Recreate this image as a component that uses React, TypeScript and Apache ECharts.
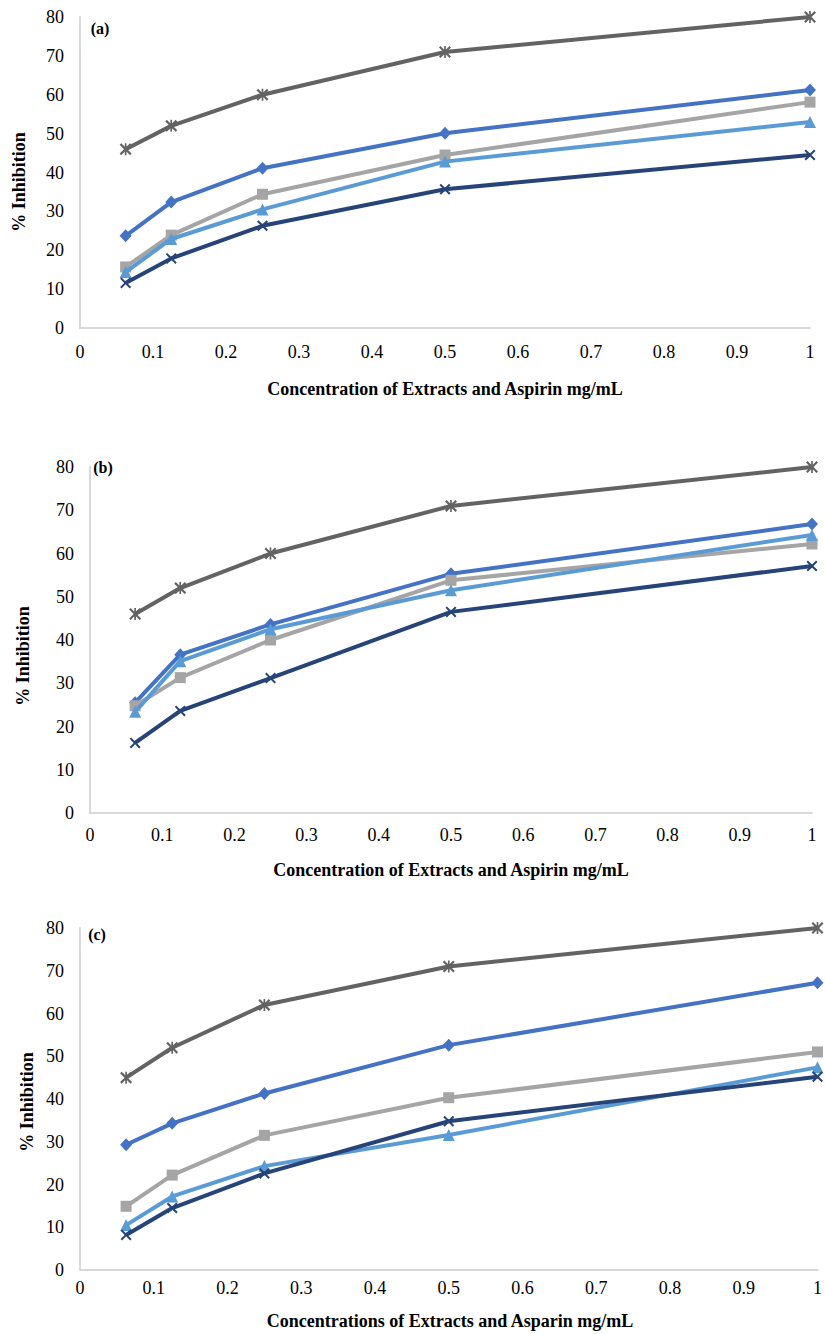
import React, { useEffect, useRef } from "react";
import * as echarts from "echarts";

// Concentrations (mg/mL)
const concentrations = [0.0625, 0.125, 0.25, 0.5, 1];
const panelLabels = ["(a)", "(b)", "(c)"];
const xTitles = [
  "Concentration of Extracts and Aspirin mg/mL",
  "Concentration of Extracts and Aspirin mg/mL",
  "Concentrations of Extracts and Asparin mg/mL",
];
const yTitle = "% Inhibition";

// Panel (a)
const aDiamond = [23.7, 32.4, 41.1, 50.1, 61.2];
const aSquare = [15.7, 23.9, 34.4, 44.5, 58.1];
const aTriangle = [14.4, 22.9, 30.5, 42.8, 53.0];
const aCross = [11.6, 17.9, 26.3, 35.7, 44.5];
const aStar = [46, 52, 60, 71, 80];

// Panel (b)
const bDiamond = [25.5, 36.6, 43.6, 55.3, 66.8];
const bSquare = [24.8, 31.3, 40.0, 53.8, 62.2];
const bTriangle = [23.4, 35.1, 42.5, 51.5, 64.3];
const bCross = [16.2, 23.6, 31.2, 46.5, 57.1];
const bStar = [46, 52, 60, 71, 80];

// Panel (c)
const cDiamond = [29.3, 34.3, 41.3, 52.6, 67.2];
const cSquare = [14.9, 22.2, 31.5, 40.3, 51.0];
const cTriangle = [10.5, 17.2, 24.3, 31.6, 47.4];
const cCross = [8.2, 14.5, 22.6, 34.8, 45.2];
const cStar = [45, 52, 62, 71, 80];

const panels = [
  [aDiamond, aSquare, aTriangle, aCross, aStar],
  [bDiamond, bSquare, bTriangle, bCross, bStar],
  [cDiamond, cSquare, cTriangle, cCross, cStar],
];

const seriesNames = ["Series 1", "Series 2", "Series 3", "Series 4", "Series 5"];
const colors = ["#4472C4", "#A5A5A5", "#5B9BD5", "#264478", "#636363"];
const CROSS =
  "path://M0,1.3 L1.3,0 L5,3.7 L8.7,0 L10,1.3 L6.3,5 L10,8.7 L8.7,10 L5,6.3 L1.3,10 L0,8.7 L3.7,5 Z";
const STAR =
  "path://M0,1.3 L1.3,0 L5,3.7 L8.7,0 L10,1.3 L6.3,5 L10,8.7 L8.7,10 L5,6.3 L1.3,10 L0,8.7 L3.7,5 Z M4.3,0 L5.7,0 L5.7,10 L4.3,10 Z";
const symbols = ["diamond", "rect", "triangle", CROSS, STAR];
const symbolSizes: any[] = [[12, 13], 11, 12, 11, 12];

const FONT = "Liberation Serif";

const grids = [
  { left: 80, top: 17, width: 730, height: 311 },
  { left: 90, top: 467, width: 722, height: 346 },
  { left: 80, top: 928, width: 740, height: 342 },
];
const xLabelMargins = [15, 13, 9];
const xTitleY = [389, 870, 1321];
const yTitleX = [19, 23, 27];
const yTitleY = [182, 656, 1102];
const tagPos = [
  [100, 28],
  [103, 467],
  [97, 934],
];

const tickRich = {
  t: { fontFamily: FONT, fontSize: 18, color: "#000", fontWeight: "normal" },
};

export default function App() {
  const ref = useRef<HTMLDivElement>(null);
  useEffect(() => {
    if (!ref.current) return;
    const chart = echarts.init(ref.current, undefined, { renderer: "svg" });
    const xAxis: any[] = [];
    const yAxis: any[] = [];
    const series: any[] = [];
    const graphic: any[] = [];
    grids.forEach((g, i) => {
      xAxis.push({
        type: "value",
        gridIndex: i,
        min: 0,
        max: 1,
        interval: 0.1,
        axisLine: { show: true, lineStyle: { color: "#D9D9D9", width: 2 } },
        axisTick: { show: false },
        splitLine: { show: false },
        axisLabel: {
          color: "#000",
          fontFamily: FONT,
          fontSize: 18,
          margin: xLabelMargins[i],
          formatter: (v: number) => `{t|${v}}`,
          rich: tickRich,
        },
      });
      yAxis.push({
        type: "value",
        gridIndex: i,
        min: 0,
        max: 80,
        interval: 10,
        axisLine: { show: true, lineStyle: { color: "#D9D9D9", width: 2 } },
        axisTick: { show: false },
        splitLine: { show: false },
        axisLabel: {
          color: "#000",
          fontFamily: FONT,
          fontSize: 18,
          margin: 16,
          formatter: (v: number) => `{t|${v}}`,
          rich: tickRich,
        },
      });
      panels[i].forEach((vals, s) => {
        series.push({
          name: seriesNames[s],
          type: "line",
          xAxisIndex: i,
          yAxisIndex: i,
          data: concentrations.map((c, k) => [c, vals[k]]),
          symbol: symbols[s],
          symbolSize: symbolSizes[s],
          showSymbol: true,
          lineStyle: { color: colors[s], width: 4 },
          itemStyle: { color: colors[s], borderWidth: 0 },
          z: 2 + s,
        });
      });
      graphic.push({
        type: "text",
        x: g.left + g.width / 2,
        y: xTitleY[i],
        style: {
          text: xTitles[i],
          font: `bold 18px "${FONT}"`,
          fill: "#000",
          align: "center",
          verticalAlign: "middle",
        },
      });
      graphic.push({
        type: "text",
        x: yTitleX[i],
        y: yTitleY[i],
        rotation: Math.PI / 2,
        style: {
          text: yTitle,
          font: `bold 18px "${FONT}"`,
          fill: "#000",
          align: "center",
          verticalAlign: "middle",
        },
      });
      graphic.push({
        type: "text",
        x: tagPos[i][0],
        y: tagPos[i][1],
        style: {
          text: panelLabels[i],
          font: `bold 16px "${FONT}"`,
          fill: "#000",
          align: "center",
          verticalAlign: "middle",
        },
      });
    });
    chart.setOption({
      animation: false,
      backgroundColor: "#fff",
      textStyle: { fontFamily: FONT },
      grid: grids,
      xAxis,
      yAxis,
      series,
      graphic,
    });
    return () => chart.dispose();
  }, []);
  return (
    <div
      ref={ref}
      style={{ position: "absolute", left: 0, top: 0, width: 825, height: 1334 }}
    />
  );
}
